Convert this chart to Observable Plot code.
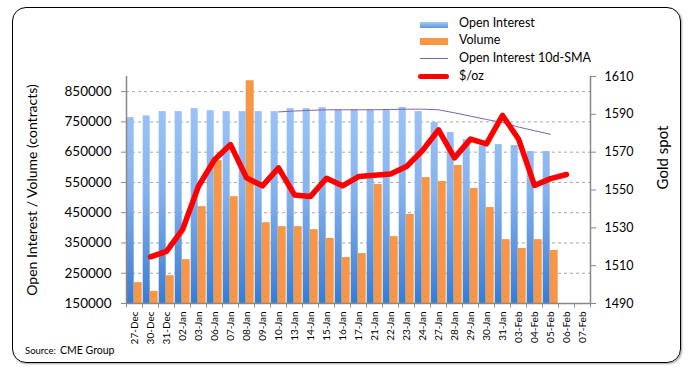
<!DOCTYPE html>
<html>
<head>
<meta charset="utf-8">
<script src="https://cdn.jsdelivr.net/npm/d3@7"></script>
<script src="https://cdn.jsdelivr.net/npm/@observablehq/plot@0.6"></script>
<style>
  html, body { margin: 0; padding: 0; background: #fff; }
  #wrap { position: relative; width: 689px; height: 372px; font-family: Lato, "Open Sans", sans-serif; overflow: hidden; }
  #border { position: absolute; left: 12px; top: 7px; width: 667px; height: 354px; border: 1.5px solid #000; border-radius: 14px; box-shadow: 1px 1px 2px rgba(0,0,0,0.35); pointer-events: none; }
  .lg { position: absolute; left: 459px; font-size: 12.5px; color: #000; line-height: 1; }
  .sw { position: absolute; left: 420px; }
  #source { position: absolute; left: 25px; top: 340px; color: #000; line-height: 1; }
</style>
</head>
<body>
<div id="wrap">
  <div id="chart"></div>
  <div class="sw" style="top:22px;width:28px;height:6px;background:linear-gradient(#a7cbf8,#5b95dd);"></div>
  <div class="lg" style="top:17px;">Open Interest</div>
  <div class="sw" style="top:38px;width:28px;height:7px;background:#f79646;"></div>
  <div class="lg" style="top:34px;">Volume</div>
  <div class="sw" style="top:58px;width:28px;height:1px;background:#8064a2;"></div>
  <div class="lg" style="top:52px;">Open Interest 10d-SMA</div>
  <div class="sw" style="top:74px;left:418px;width:31px;height:5px;border-radius:3px;background:#ff0000;"></div>
  <div class="lg" style="top:70px;">$/oz</div>
  <div id="source"><span style="font-size:9.5px">Source:</span> <span style="font-size:10.5px">CME Group</span></div>
  <div id="border"></div>
</div>
<script>
const dates = ["27-Dec","30-Dec","31-Dec","02-Jan","03-Jan","06-Jan","07-Jan","08-Jan","09-Jan","10-Jan","13-Jan","14-Jan","15-Jan","16-Jan","17-Jan","21-Jan","22-Jan","23-Jan","24-Jan","27-Jan","28-Jan","29-Jan","30-Jan","31-Jan","03-Feb","04-Feb","05-Feb","06-Feb","07-Feb"];
const openInterest = [764000,770000,784000,784000,794000,787000,784000,784000,784000,784000,794000,794000,797000,790000,790000,790000,790000,798000,784000,748000,715000,691000,671000,675000,672000,652000,652000,null,null];
const volume = [219000,190000,242000,295000,470000,622000,503000,886000,417000,404000,404000,394000,365000,302000,315000,543000,371000,444000,566000,553000,606000,530000,467000,361000,332000,361000,325000,null,null];
const oiSMA = [null,null,null,null,null,null,null,null,null,783000,786000,788000,790000,790000,790000,790000,791000,792000,792000,790000,780000,769000,758000,748000,733000,721000,709000,null,null];
const goldPrice = [null,1514.7,1517.5,1529,1552,1566,1574,1556.4,1552.2,1561.7,1547.4,1546.6,1556.2,1552.2,1557.1,1557.8,1558.5,1562.4,1570.9,1581.8,1567,1576.9,1574.4,1589.4,1577,1552.4,1556,1558.2,null];
const leftTicks = [150000,250000,350000,450000,550000,650000,750000,850000];
const rightTicks = [1490,1510,1530,1550,1570,1590,1610];

// map gold ($/oz, right axis 1490..1610) onto left axis (150000..900000)
const toLeft = p => 150000 + (p - 1490) * 6250;
const toGold = v => Math.round(1490 + (v - 150000) / 6250);

const rows = dates.map((d, i) => ({date: d, oi: openInterest[i], vol: volume[i], sma: oiSMA[i], gold: goldPrice[i]}));
const oiRows = rows.filter(r => r.oi != null);
const volRows = rows.filter(r => r.vol != null);
const smaRows = rows.filter(r => r.sma != null);
const goldRows = rows.filter(r => r.gold != null);

const chart = Plot.plot({
  width: 689,
  height: 372,
  marginLeft: 126,
  marginRight: 99,
  marginTop: 76,
  marginBottom: 69,
  style: {fontFamily: "Lato, 'Open Sans', sans-serif", background: "transparent", color: "#000", overflow: "visible"},
  x: {type: "band", domain: dates, padding: 0, axis: null},
  y: {domain: [150000, 900000], axis: null},
  marks: [
    Plot.gridY(leftTicks.slice(1), {stroke: "#a6a6a6", strokeOpacity: 1, strokeDasharray: "3,3"}),
    Plot.barY(oiRows, {x: "date", y1: () => 150000, y2: "oi", fill: "url(#oiGrad)", insetLeft: 0.7, insetRight: 8.3}),
    Plot.barY(volRows, {x: "date", y1: () => 150000, y2: "vol", fill: "#f79646", insetLeft: 7.7, insetRight: 0.3}),
    Plot.line(smaRows, {x: "date", y: "sma", stroke: "#8064a2", strokeWidth: 1}),
    Plot.line(goldRows, {x: "date", y: d => toLeft(d.gold), stroke: "#ff0000", strokeWidth: 5.5, strokeLinejoin: "round"}),
    Plot.ruleY([150000], {stroke: "#888", strokeWidth: 1.5}),
    Plot.ruleX([dates[0]], {x: d => d, dx: -8, stroke: "#888", strokeWidth: 1.5}),
    Plot.ruleX([dates[dates.length - 1]], {x: d => d, dx: 8, stroke: "#888", strokeWidth: 1.5}),
    Plot.ruleX(dates, {x: d => d, dx: -8, y1: 150000, y2: 136000, stroke: "#888"}),
    Plot.ruleX([dates[dates.length - 1]], {x: d => d, dx: 8, y1: 150000, y2: 136000, stroke: "#888"}),
    Plot.axisY(leftTicks, {anchor: "left", tickSize: 5, tickPadding: 10, fontSize: 13.5, stroke: "#888", label: null, tickFormat: d => String(d)}),
    Plot.axisY(rightTicks.map(toLeft), {anchor: "right", tickSize: 5, tickPadding: 9, fontSize: 12.5, stroke: "#888", label: null, tickFormat: v => String(toGold(v))}),
    Plot.axisX({tickSize: 0, tickRotate: -90, tickPadding: 8, fontSize: 10, label: null}),
    Plot.text(["Open Interest / Volume (contracts)"], {frameAnchor: "left", dx: -94, rotate: -90, textAnchor: "middle", fontSize: 14, fill: "#000"}),
    Plot.text(["Gold spot"], {frameAnchor: "top-right", dx: 67, dy: 81, rotate: -90, textAnchor: "middle", fontSize: 15, fill: "#000"})
  ]
});

chart.insertAdjacentHTML("afterbegin",
  '<defs><linearGradient id="oiGrad" gradientUnits="userSpaceOnUse" x1="0" y1="76" x2="0" y2="303">' +
  '<stop offset="0" stop-color="#a3c8f9"/><stop offset="0.5" stop-color="#86b3ee"/><stop offset="1" stop-color="#3a7bd0"/>' +
  '</linearGradient></defs>');

document.getElementById("chart").appendChild(chart);
</script>
</body>
</html>
